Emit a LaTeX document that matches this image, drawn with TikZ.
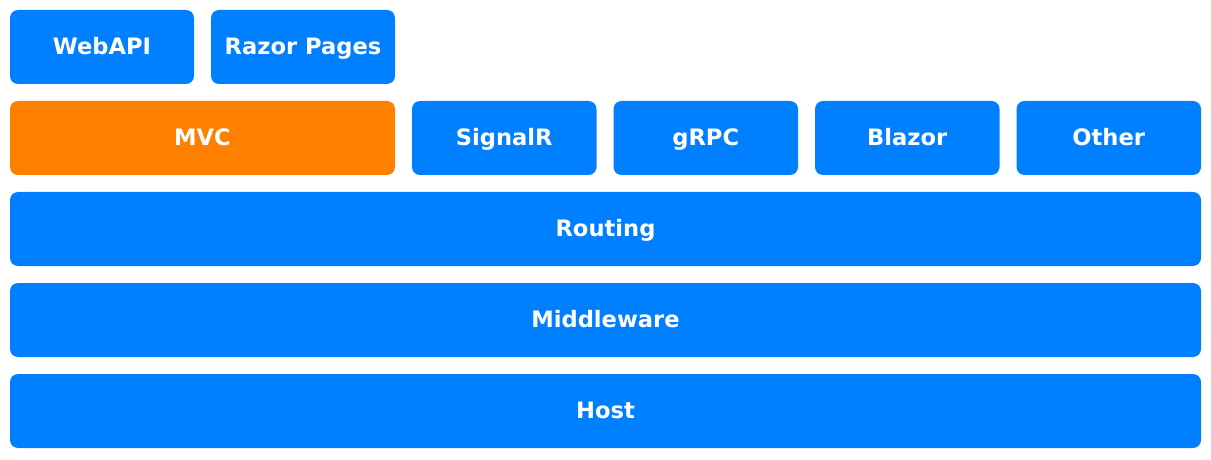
\documentclass[tikz,border=0pt]{standalone}
\usepackage{fontspec}
\setmainfont{DejaVu Sans}
\usetikzlibrary{positioning}
\definecolor{netblue}{HTML}{0080FF}
\definecolor{netorange}{HTML}{FF8000}
\tikzset{
  Block/.style={fill=netblue, text=white, font=\fontsize{11.3}{13}\bfseries,
    rounded corners=4pt, minimum height=37pt, minimum width=#1,
    text height=1.6ex, text depth=.25ex,
    inner sep=0pt, outer sep=0pt}, % für Kästen
  Block/.default=92pt,
  Hilite/.style={Block=#1, fill=netorange} % hervorgehobener Kasten
}
\begin{document}
\begin{tikzpicture}[node distance=8.5pt]
\useasboundingbox (0,0) rectangle (605.5pt,-230pt);

%obere Zeile
\node[Block, anchor=north west] (WebAPI) at (5pt,-5pt) {WebAPI};
\node[Block, right=of WebAPI] (Razor) {Razor Pages};

%zweite Zeile
\node[Hilite=192.5pt, below=of WebAPI.south west, anchor=north west] (MVC) {MVC};
\node[Block=92.25pt, right=of MVC] (SignalR) {SignalR};
\node[Block=92.25pt, right=of SignalR] (gRPC) {gRPC};
\node[Block=92.25pt, right=of gRPC] (Blazor) {Blazor};
\node[Block=92.25pt, right=of Blazor] (Other) {Other};

%Schichten
\node[Block=595.5pt, below=of MVC.south west, anchor=north west] (Routing) {Routing};
\node[Block=595.5pt, below=of Routing] (Middleware) {Middleware};
\node[Block=595.5pt, below=of Middleware] (Host) {Host};

\end{tikzpicture}
\end{document}
